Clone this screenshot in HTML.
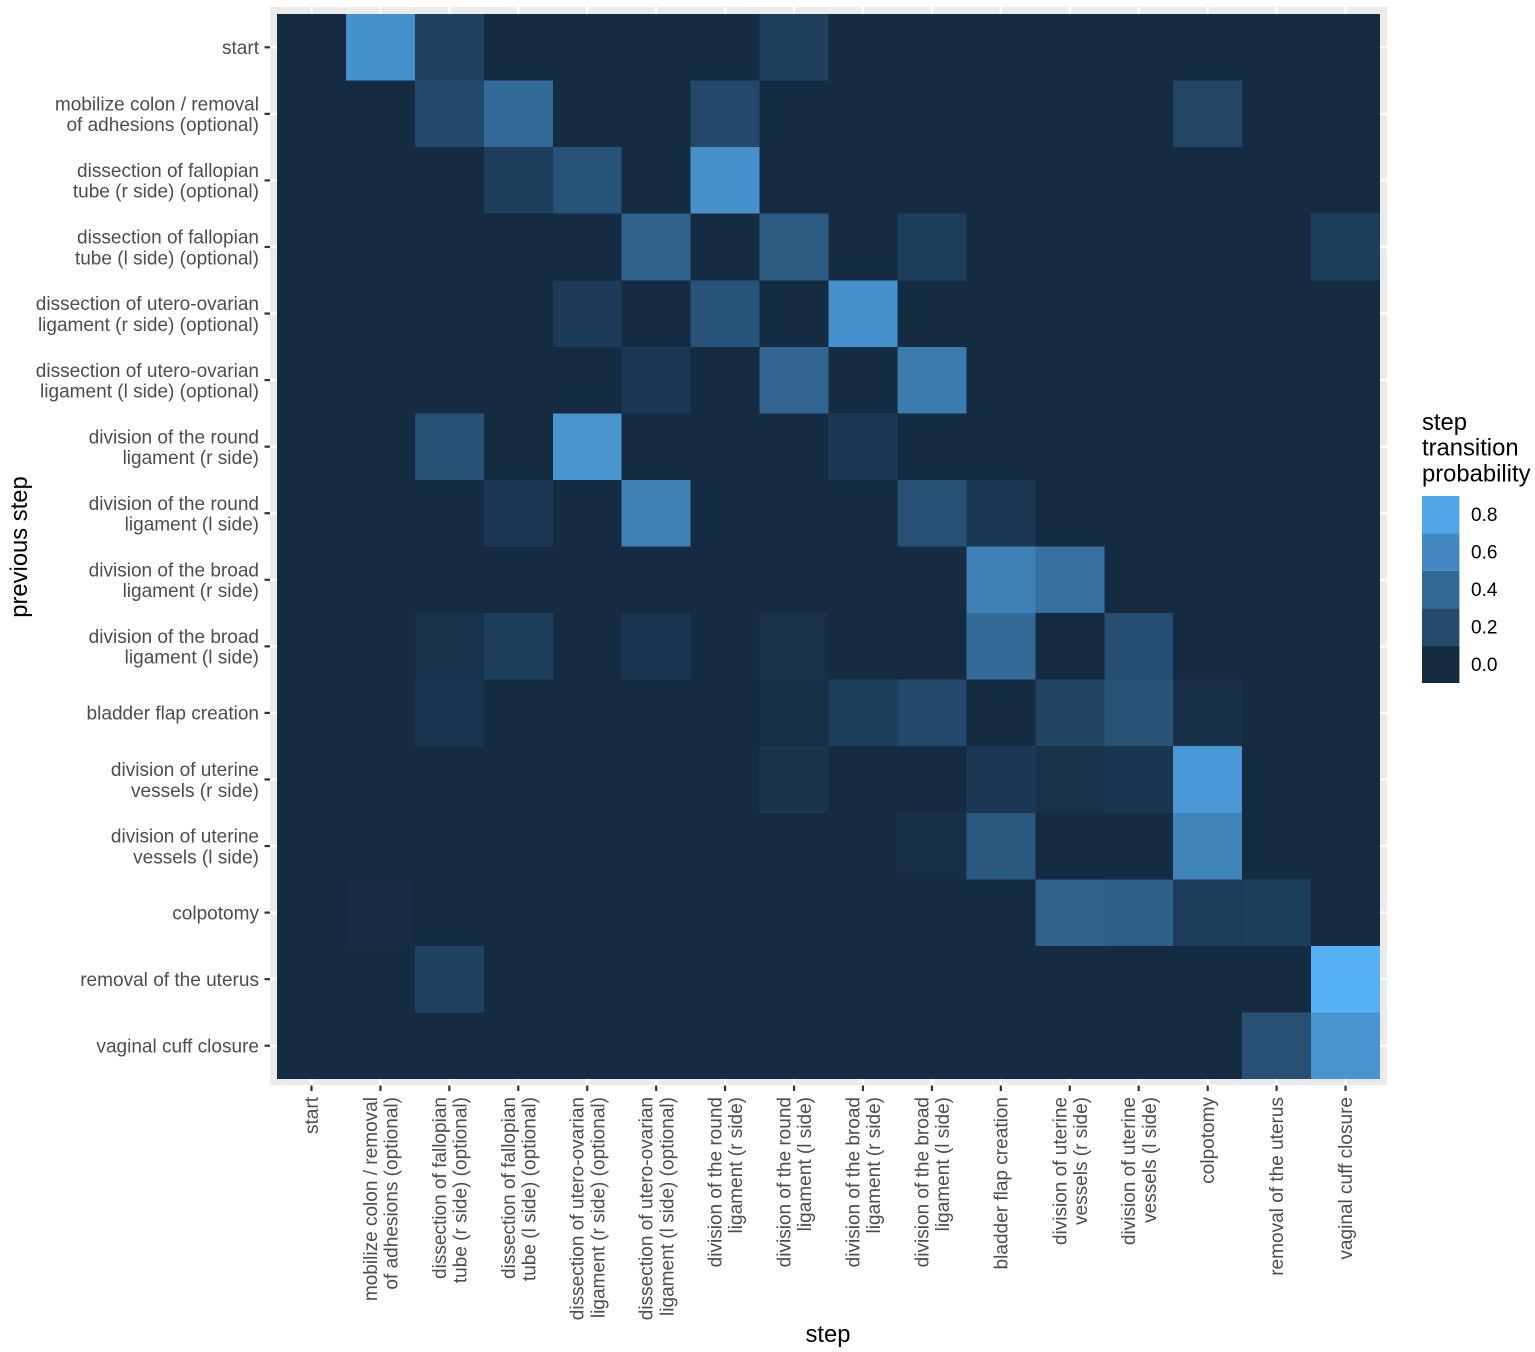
<!DOCTYPE html>
<html lang="en">
<head>
<meta charset="utf-8">
<title>Step transition probability heatmap</title>
<style>
html,body{margin:0;padding:0;background:#fff;}
svg{display:block;font-family:"Liberation Sans",Arial,sans-serif;}
</style>
</head>
<body>
<svg id="chart" xmlns="http://www.w3.org/2000/svg" width="1535" height="1352" viewBox="0 0 1535 1352">
  <rect x="0" y="0" width="1535" height="1352" fill="#ffffff"/>
  <rect x="270" y="7" width="1117" height="1078" fill="#ebebeb"/>
  <g id="grid"></g>
  <g id="cells" shape-rendering="crispEdges"></g>
  <g id="x-axis"></g>
  <g id="y-axis"></g>
  <text x="828" y="1342" font-size="23.8" text-anchor="middle" fill="#000">step</text>
  <text transform="translate(27,547) rotate(-90)" font-size="23.8" text-anchor="middle" fill="#000">previous step</text>
  <g id="legend">
    <text x="1422" y="430" font-size="23.8" fill="#000">step</text>
    <text x="1422" y="455.5" font-size="23.8" fill="#000">transition</text>
    <text x="1422" y="481.5" font-size="23.8" fill="#000">probability</text>
  </g>
</svg>
<script>
const steps = [
  "start",
  "mobilize colon / removal\nof adhesions (optional)",
  "dissection of fallopian\ntube (r side) (optional)",
  "dissection of fallopian\ntube (l side) (optional)",
  "dissection of utero-ovarian\nligament (r side) (optional)",
  "dissection of utero-ovarian\nligament (l side) (optional)",
  "division of the round\nligament (r side)",
  "division of the round\nligament (l side)",
  "division of the broad\nligament (r side)",
  "division of the broad\nligament (l side)",
  "bladder flap creation",
  "division of uterine\nvessels (r side)",
  "division of uterine\nvessels (l side)",
  "colpotomy",
  "removal of the uterus",
  "vaginal cuff closure"
];
const probabilities = [
  [0,.66,.15,0,0,0,0,.13,0,0,0,0,0,0,0,0],
  [0,0,.19,.41,0,0,.19,0,0,0,0,0,0,.17,0,0],
  [0,0,0,.12,.26,0,.66,0,0,0,0,0,0,0,0,0],
  [0,0,0,0,0,.35,0,.31,0,.11,0,0,0,0,0,.12],
  [0,0,0,0,.1,0,.26,0,.66,0,0,0,0,0,0,0],
  [0,0,0,0,0,.08,0,.37,0,.51,0,0,0,0,0,0],
  [0,0,.24,0,.68,0,0,0,.08,0,0,0,0,0,0,0],
  [0,0,0,.08,0,.55,0,0,0,.24,.07,0,0,0,0,0],
  [0,0,0,0,0,0,0,0,0,0,.55,.45,0,0,0,0],
  [0,0,.04,.12,0,.06,0,.035,0,0,.41,0,.23,0,0,0],
  [0,0,.06,0,0,0,0,.02,.12,.19,0,.16,.25,.03,0,0],
  [0,0,0,0,0,0,0,.05,0,0,.08,.04,.06,.7,0,0],
  [0,0,0,0,0,0,0,0,0,.02,.29,0,0,.57,0,0],
  [0,.015,0,0,0,0,0,0,0,0,0,.35,.34,.11,.12,0],
  [0,0,.15,0,0,0,0,0,0,0,0,0,0,0,0,.87],
  [0,0,0,0,0,0,0,0,0,0,0,0,0,0,.24,.68]
];
const legendTicks = [0.8, 0.6, 0.4, 0.2, 0.0];
const legendLabels = ["0.8", "0.6", "0.4", "0.2", "0.0"];
const colorDomainMax = 0.87;

const NS = "http://www.w3.org/2000/svg";
const plotLeft = 277, plotRight = 1380, plotTop = 14, plotBottom = 1079;
const panelLeft = 270, panelRight = 1387, panelTop = 7, panelBottom = 1085;
const cellW = (plotRight - plotLeft) / steps.length;
const cellH = (plotBottom - plotTop) / steps.length;
const xBand = i => plotLeft + i * cellW;
const yBand = i => plotTop + i * cellH;
const xCenter = i => xBand(i) + cellW / 2;
const yCenter = i => yBand(i) + cellH / 2;

function colorScale(v) {
  const t = Math.max(0, Math.min(1, v / colorDomainMax));
  const lo = [21, 43, 66], hi = [86, 177, 247];
  const c = lo.map((l, k) => Math.round(l + (hi[k] - l) * t));
  return "rgb(" + c.join(",") + ")";
}
function make(tag, attrs, parent) {
  const el = document.createElementNS(NS, tag);
  for (const k in attrs) el.setAttribute(k, attrs[k]);
  parent.appendChild(el);
  return el;
}

const grid = document.getElementById("grid");
steps.forEach((s, i) => {
  const v = make("line", {x1: xCenter(i), x2: xCenter(i), y1: panelTop, y2: panelBottom, stroke: "#fff", "stroke-width": 2.2}, grid);
  
  
  const h = make("line", {x1: panelLeft, x2: panelRight, y1: yCenter(i), y2: yCenter(i), stroke: "#fff", "stroke-width": 2.2}, grid);
  
  
});

const cells = document.getElementById("cells");
probabilities.forEach((row, r) => {
  row.forEach((v, c) => {
    const cell = make("rect", {x: xBand(c), y: yBand(r), width: cellW, height: cellH, fill: colorScale(v)}, cells);
    
    
  });
});

const yAxis = document.getElementById("y-axis");
steps.forEach((s, i) => {
  const cy = yCenter(i);
  const tick = make("line", {x1: 264.5, x2: 270, y1: cy, y2: cy, stroke: "#333", "stroke-width": 2.2}, yAxis);
  
  
  const lines = s.split("\n");
  lines.forEach((ln, k) => {
    const base = lines.length === 1 ? cy + 6.8 : cy - 3.3 + k * 20.6;
    const t = make("text", {x: 259, y: base, "text-anchor": "end", "font-size": 19.05, fill: "#4d4d4d"}, yAxis);
    t.textContent = ln;
    
    
  });
});

const xAxis = document.getElementById("x-axis");
steps.forEach((s, i) => {
  const cx = xCenter(i);
  const tick = make("line", {x1: cx, x2: cx, y1: 1085.5, y2: 1091, stroke: "#333", "stroke-width": 2.2}, xAxis);
  
  
  const lines = s.split("\n");
  lines.forEach((ln, k) => {
    const base = lines.length === 1 ? cx + 6.5 : cx - 3.5 + k * 20.6;
    const t = make("text", {transform: "translate(" + base + ",1097) rotate(-90)", "text-anchor": "end", "font-size": 19.05, fill: "#4d4d4d"}, xAxis);
    t.textContent = ln;
    
    
  });
});

const legend = document.getElementById("legend");
const legendTop = 496, legendStep = 37.4;
legendTicks.forEach((v, i) => {
  const swatch = make("rect", {x: 1422, y: legendTop + i * legendStep, width: 37.4, height: legendStep, fill: colorScale(v)}, legend);
  
  
  const label = make("text", {x: 1471, y: legendTop + (i + 0.5) * legendStep + 6.5, "font-size": 19.05, fill: "#000"}, legend);
  label.textContent = legendLabels[i];
  
  
});
</script>
</body>
</html>
